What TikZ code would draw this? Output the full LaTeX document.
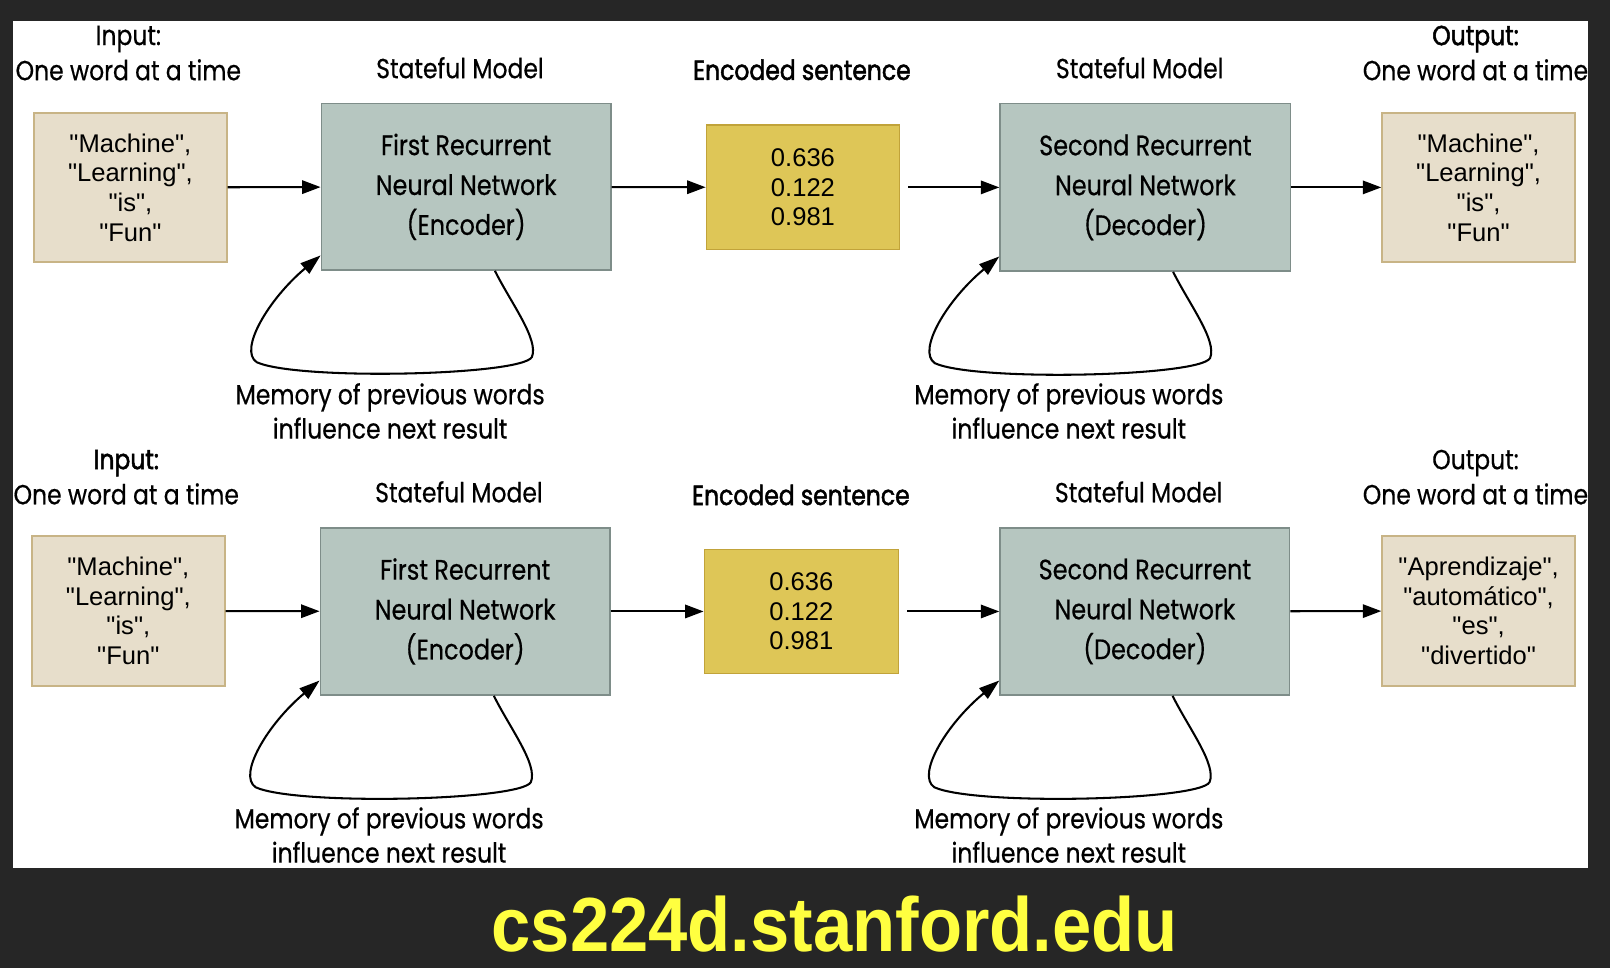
\documentclass[tikz,border=0pt]{standalone}
\usepackage{fontspec}
\setmainfont{Liberation Sans}
\newfontfamily\fut[FakeStretch=0.85,FakeBold=0.5]{Poppins}
\newfontfamily\futb[FakeStretch=0.85,FakeBold=1.8]{Poppins}
\newfontfamily\urlfont[FakeStretch=0.92]{Liberation Sans Bold}
\usetikzlibrary{arrows.meta,calc}
\definecolor{bgdark}{HTML}{262626}
\definecolor{infill}{HTML}{E7DECB}
\definecolor{indraw}{HTML}{C8B486}
\definecolor{rnnfill}{HTML}{B6C6C0}
\definecolor{rnndraw}{HTML}{7E8D89}
\definecolor{encfill}{HTML}{DEC657}
\definecolor{encdraw}{HTML}{C1A33A}
\definecolor{urlcol}{HTML}{FFFF40}
\newcommand{\qt}[1]{\textquotedbl #1\textquotedbl}
\begin{document}
\begin{tikzpicture}[x=1bp,y=-1bp,
  lbl/.style={font=\fut\fontsize{27}{30}\selectfont, inner sep=0pt, anchor=center},
  lblb/.style={lbl, font=\futb\fontsize{27}{30}\selectfont},
  wordbox/.style={draw=indraw, fill=infill, line width=1.5bp, inner sep=0pt,
    minimum width=188bp, minimum height=145bp, align=center,
    font=\fontsize{25}{29}\selectfont},
  rnnbox/.style={draw=rnndraw, fill=rnnfill, line width=1.5bp, inner sep=0pt,
    minimum width=282bp, minimum height=162bp, align=center,
    font=\fut\fontsize{27.5}{39}\selectfont},
  vecbox/.style={draw=encdraw, fill=encfill, line width=1.5bp, inner sep=0pt,
    minimum width=188bp, minimum height=121bp, align=center,
    font=\fontsize{25}{29}\selectfont},
  arr/.style={line width=2bp, -{Triangle[length=18bp,width=13bp]}},
  loopln/.style={line width=2bp, -{Triangle[length=20bp,width=13bp]}}
]
\fill[bgdark] (0,0) rectangle (1568,943);
\fill[white] (13,20) rectangle (1547,845);
\useasboundingbox (0,0) rectangle (1568,943);

\begin{scope}
\clip (13,20) rectangle (1547,845);
% ---------- top row ----------
\node[wordbox] (in1) at (127,182.5) {\qt{Machine},\\\qt{Learning},\\\qt{is},\\\qt{Fun}};
\node[rnnbox] (enc1) at (454,182) {First Recurrent\\Neural Network\\(Encoder)};
\node[vecbox] (vec1) at (782,182.5) {0.636\\0.122\\0.981};
\node[rnnbox, minimum width=283bp, minimum height=163bp] (dec1) at (1115.5,182.5) {Second Recurrent\\Neural Network\\(Decoder)};
\node[wordbox] (out1) at (1440,182.5) {\qt{Machine},\\\qt{Learning},\\\qt{is},\\\qt{Fun}};

\node[lbl] (tin1) at (125,38) {Input:};
\node[lbl] (tin1b) at (125,68) {One word at a time};
\node[lbl] (tsm1) at (448,66) {Stateful Model};
\node[lblb] (tenc1) at (781,68) {Encoded sentence};
\node[lbl] (tsm2) at (1110,66) {Stateful Model};
\node[lblb] (tout1) at (1437,38) {Output:};
\node[lbl] (tout1b) at (1437,68) {One word at a time};
\node[lbl] (mem1a) at (380,387) {Memory of previous words};
\node[lbl] (mem1b) at (380,417) {influence next result};
\node[lbl] (mem2a) at (1041,387) {Memory of previous words};
\node[lbl] (mem2b) at (1041,417) {influence next result};

\draw[arr] (in1) -- (enc1);
\draw[arr] (enc1) -- (vec1);
\draw[arr, shorten <=8bp] (vec1) -- (dec1);
\draw[arr] (dec1) -- (out1);

\draw[loopln] ($(enc1.south)+(28,0)$) .. controls ($(enc1.south)+(44,32)$) and ($(enc1.south)+(71,67)$) .. ($(enc1.south)+(64,84)$)
  .. controls ($(enc1.south)+(54,102)$) and ($(enc1.south)+(-164,107)$) .. ($(enc1.south)+(-204,89)$)
  .. controls ($(enc1.south)+(-222,77)$) and ($(enc1.south)+(-192,27)$) .. ([yshift=15bp]enc1.south west);
\draw[loopln] ($(dec1.south)+(27,0)$) .. controls ($(dec1.south)+(43,32)$) and ($(dec1.south)+(70,67)$) .. ($(dec1.south)+(63,84)$)
  .. controls ($(dec1.south)+(53,102)$) and ($(dec1.south)+(-165,107)$) .. ($(dec1.south)+(-205,89)$)
  .. controls ($(dec1.south)+(-223,77)$) and ($(dec1.south)+(-193,27)$) .. ([yshift=15bp]dec1.south west);

% ---------- bottom row ----------
\node[wordbox, minimum height=146bp] (in2) at (125,595) {\qt{Machine},\\\qt{Learning},\\\qt{is},\\\qt{Fun}};
\node[rnnbox, minimum height=163bp] (enc2) at (453,595.5) {First Recurrent\\Neural Network\\(Encoder)};
\node[vecbox, minimum width=189bp] (vec2) at (780.5,595.5) {0.636\\0.122\\0.981};
\node[rnnbox, minimum height=163bp] (dec2) at (1115,595.5) {Second Recurrent\\Neural Network\\(Decoder)};
\node[wordbox, minimum height=146bp] (out2) at (1440,595) {\qt{Aprendizaje},\\\qt{automático},\\\qt{es},\\\qt{divertido}};

\node[lblb] (tin2) at (123,451) {Input:};
\node[lbl] (tin2b) at (123,481) {One word at a time};
\node[lbl] (tsm3) at (447,479) {Stateful Model};
\node[lblb] (tenc2) at (780,482) {Encoded sentence};
\node[lbl] (tsm4) at (1109,479) {Stateful Model};
\node[lbl] (tout2) at (1437,451) {Output:};
\node[lbl] (tout2b) at (1437,481) {One word at a time};
\node[lbl] (mem3a) at (379,800) {Memory of previous words};
\node[lbl] (mem3b) at (379,830) {influence next result};
\node[lbl] (mem4a) at (1041,800) {Memory of previous words};
\node[lbl] (mem4b) at (1041,830) {influence next result};

\draw[arr] (in2) -- (enc2);
\draw[arr] (enc2) -- (vec2);
\draw[arr, shorten <=8bp] (vec2) -- (dec2);
\draw[arr] (dec2) -- (out2);

\draw[loopln] ($(enc2.south)+(28,0)$) .. controls ($(enc2.south)+(44,32)$) and ($(enc2.south)+(71,67)$) .. ($(enc2.south)+(64,84)$)
  .. controls ($(enc2.south)+(54,102)$) and ($(enc2.south)+(-164,107)$) .. ($(enc2.south)+(-204,89)$)
  .. controls ($(enc2.south)+(-222,77)$) and ($(enc2.south)+(-192,27)$) .. ([yshift=15bp]enc2.south west);
\draw[loopln] ($(dec2.south)+(27,0)$) .. controls ($(dec2.south)+(43,32)$) and ($(dec2.south)+(70,67)$) .. ($(dec2.south)+(63,84)$)
  .. controls ($(dec2.south)+(53,102)$) and ($(dec2.south)+(-165,107)$) .. ($(dec2.south)+(-205,89)$)
  .. controls ($(dec2.south)+(-223,77)$) and ($(dec2.south)+(-193,27)$) .. ([yshift=15bp]dec2.south west);
\end{scope}

\node[font=\urlfont\fontsize{75}{80}\selectfont, text=urlcol, inner sep=0pt] (url) at (813,900) {cs224d.stanford.edu};
\end{tikzpicture}
\end{document}
